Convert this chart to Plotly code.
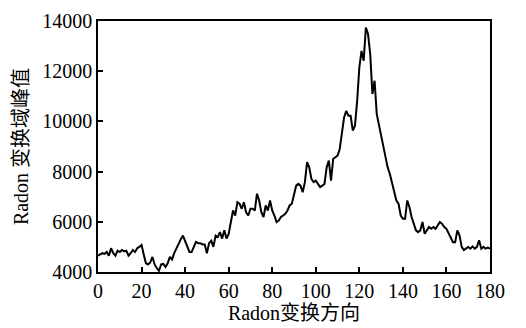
import plotly.graph_objects as go

angles = list(range(0, 181))
peak_values = [
    4650, 4700, 4750, 4720, 4800, 4650, 4950, 4750, 4650, 4850,  # 0-9
    4800, 4880, 4820, 4850, 4650, 4750, 4880, 4800, 4950, 5000,  # 10-19
    5080, 4700, 4350, 4300, 4380, 4600, 4300, 4150, 4050, 4300,  # 20-29
    4320, 4200, 4350, 4600, 4500, 4750, 4950, 5150, 5300, 5450,  # 30-39
    5250, 5000, 4800, 4800, 5000, 5200, 5150, 5150, 5100, 5100,  # 40-49
    4750, 5150, 5250, 5000, 5450, 5390, 5590, 5330, 5660, 5330,  # 50-59
    5520, 5920, 6450, 6250, 6780, 6720, 6520, 6780, 6380, 6250,  # 60-69
    6520, 6520, 6450, 7120, 6850, 6380, 6190, 6650, 6450, 6850,  # 70-79
    6450, 6250, 5990, 6050, 6190, 6250, 6320, 6450, 6650, 6720,  # 80-89
    7050, 7440, 7510, 7440, 7180, 7580, 8380, 8170, 7710, 7580,  # 90-99
    7640, 7510, 7380, 7440, 7510, 8170, 8440, 7640, 8510, 8570,  # 100-109
    8640, 8900, 9570, 10160, 10420, 10230, 10230, 9630, 9830, 10820,  # 110-119
    12150, 12810, 12420, 13740, 13480, 12680, 11090, 11620, 10290, 9890,  # 120-129
    9500, 8970, 8700, 8170, 7910, 7510, 7120, 6850, 6720, 6250,  # 130-139
    6120, 6120, 6850, 6590, 6190, 5920, 5660, 5590, 5660, 5990,  # 140-149
    5520, 5660, 5790, 5720, 5790, 5720, 5850, 5990, 5920, 5790,  # 150-159
    5720, 5520, 5330, 5190, 5190, 5660, 5460, 5000, 4870, 4930,  # 160-169
    5000, 4930, 5020, 4930, 5000, 5260, 4930, 5000, 4930, 4970,  # 170-179
    4930,  # 180
]

x_ticks = [0, 20, 40, 60, 80, 100, 120, 140, 160, 180]
y_ticks = [4000, 6000, 8000, 10000, 12000, 14000]
y_tick_labels = ["4000", "6000", "8000", "10000", "12000", "14000"]
x_title = "Radon变换方向"
y_title = "Radon 变换域峰值"

font_family = "Liberation Serif, Noto Sans CJK SC, serif"

fig = go.Figure()
fig.add_trace(go.Scatter(
    x=angles, y=peak_values, mode="lines",
    line=dict(color="black", width=2),
    showlegend=False,
))

axis_common = dict(
    showline=True, linecolor="black", linewidth=1.5, mirror=True,
    ticks="inside", ticklen=5, tickwidth=1.5, tickcolor="black",
    showgrid=False, zeroline=False, automargin=False,
    tickfont=dict(family=font_family, size=20, color="black"),
)

# page body has an 8px margin; margins compensate so the plot area sits where the reference's does
fig.update_layout(
    width=518, height=320,
    margin=dict(l=90, r=36, t=13, b=56),
    paper_bgcolor="white", plot_bgcolor="white",
    font=dict(family=font_family, color="black"),
    xaxis=dict(range=[0, 180], tickvals=x_ticks,
               title=dict(text=x_title, font=dict(size=20, family=font_family), standoff=4),
               **axis_common),
    yaxis=dict(range=[4000, 14000], tickvals=y_ticks, ticktext=y_tick_labels,
               title=dict(text=y_title, font=dict(size=20, family=font_family), standoff=8),
               **axis_common),
)

fig.write_html("out.html")
